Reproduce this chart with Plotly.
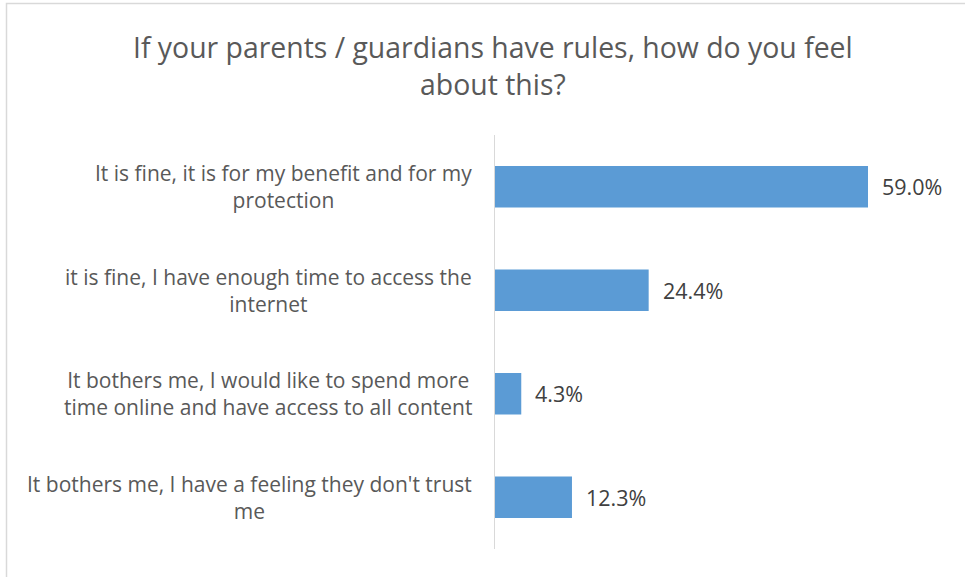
import plotly.graph_objects as go

# Survey answers, top to bottom
categories = [
    "It is fine, it is for my benefit and for my<br>protection",
    "it is fine, I have enough time to access the<br>internet",
    "It bothers me, I would like to spend more<br>time online and have access to all content",
    "It bothers me, I have a feeling they don't trust<br>me",
]
values = [59.0, 24.4, 4.3, 12.3]
value_labels = ["59.0%", "24.4%", "4.3%", "12.3%"]
title_text = "If your parents / guardians have rules, how do you feel<br>about this?"

W, H = 965, 577
L, R, T, B = 494, 35, 135, 28
plot_w = W - L - R
plot_h = H - T - B
x_max = plot_w / (374 / 59.0)

font_family = "Open Sans, Noto Sans, sans-serif"
text_col = "#595959"

fig = go.Figure(go.Bar(
    x=values,
    y=list(range(len(categories))),
    orientation="h",
    marker=dict(color="#5B9BD5", line=dict(width=0)),
    width=0.4,
    hoverinfo="skip",
))

annotations = []
# value labels beside each bar
for i, (v, lab) in enumerate(zip(values, value_labels)):
    annotations.append(dict(
        x=v, y=i, xref="x", yref="y", text=lab, showarrow=False,
        xanchor="left", xshift=12, font=dict(size=21.5, color="#404040", family=font_family),
    ))
# category labels, centred per line and right-anchored near the axis
for i, c in enumerate(categories):
    annotations.append(dict(
        x=(474 - L) / plot_w, y=i, xref="paper", yref="y", text=c, showarrow=False,
        xanchor="right", align="center",
        font=dict(size=21, color=text_col, family=font_family),
    ))
# chart title
annotations.append(dict(
    x=((134 + 852) / 2 - L) / plot_w, y=(H - B - 66) / plot_h, xref="paper", yref="paper",
    text=title_text, showarrow=False, xanchor="center", yanchor="middle", align="center",
    font=dict(size=28.4, color=text_col, family=font_family),
))

fig.update_layout(
    width=W, height=H,
    margin=dict(l=L, r=R, t=T, b=B),
    paper_bgcolor="white", plot_bgcolor="white",
    showlegend=False,
    xaxis=dict(range=[0, x_max], visible=False, fixedrange=True),
    yaxis=dict(
        range=[3.5, -0.5], showticklabels=False, showgrid=False, zeroline=False,
        showline=False, ticks="",
    ),
    annotations=annotations,
    shapes=[
        # category axis line
        dict(type="line", xref="x", yref="paper", x0=0, x1=0, y0=0, y1=1,
             line=dict(color="#D9D9D9", width=2), layer="above"),
        # chart frame
        dict(type="rect", xref="paper", yref="paper",
             x0=(6.5 - L) / plot_w, x1=(W + 20 - L) / plot_w,
             y0=-(B + 20) / plot_h, y1=(H - 3.5 - B) / plot_h,
             line=dict(color="#D9D9D9", width=1.5)),
    ],
)

fig.write_html("out.html")
